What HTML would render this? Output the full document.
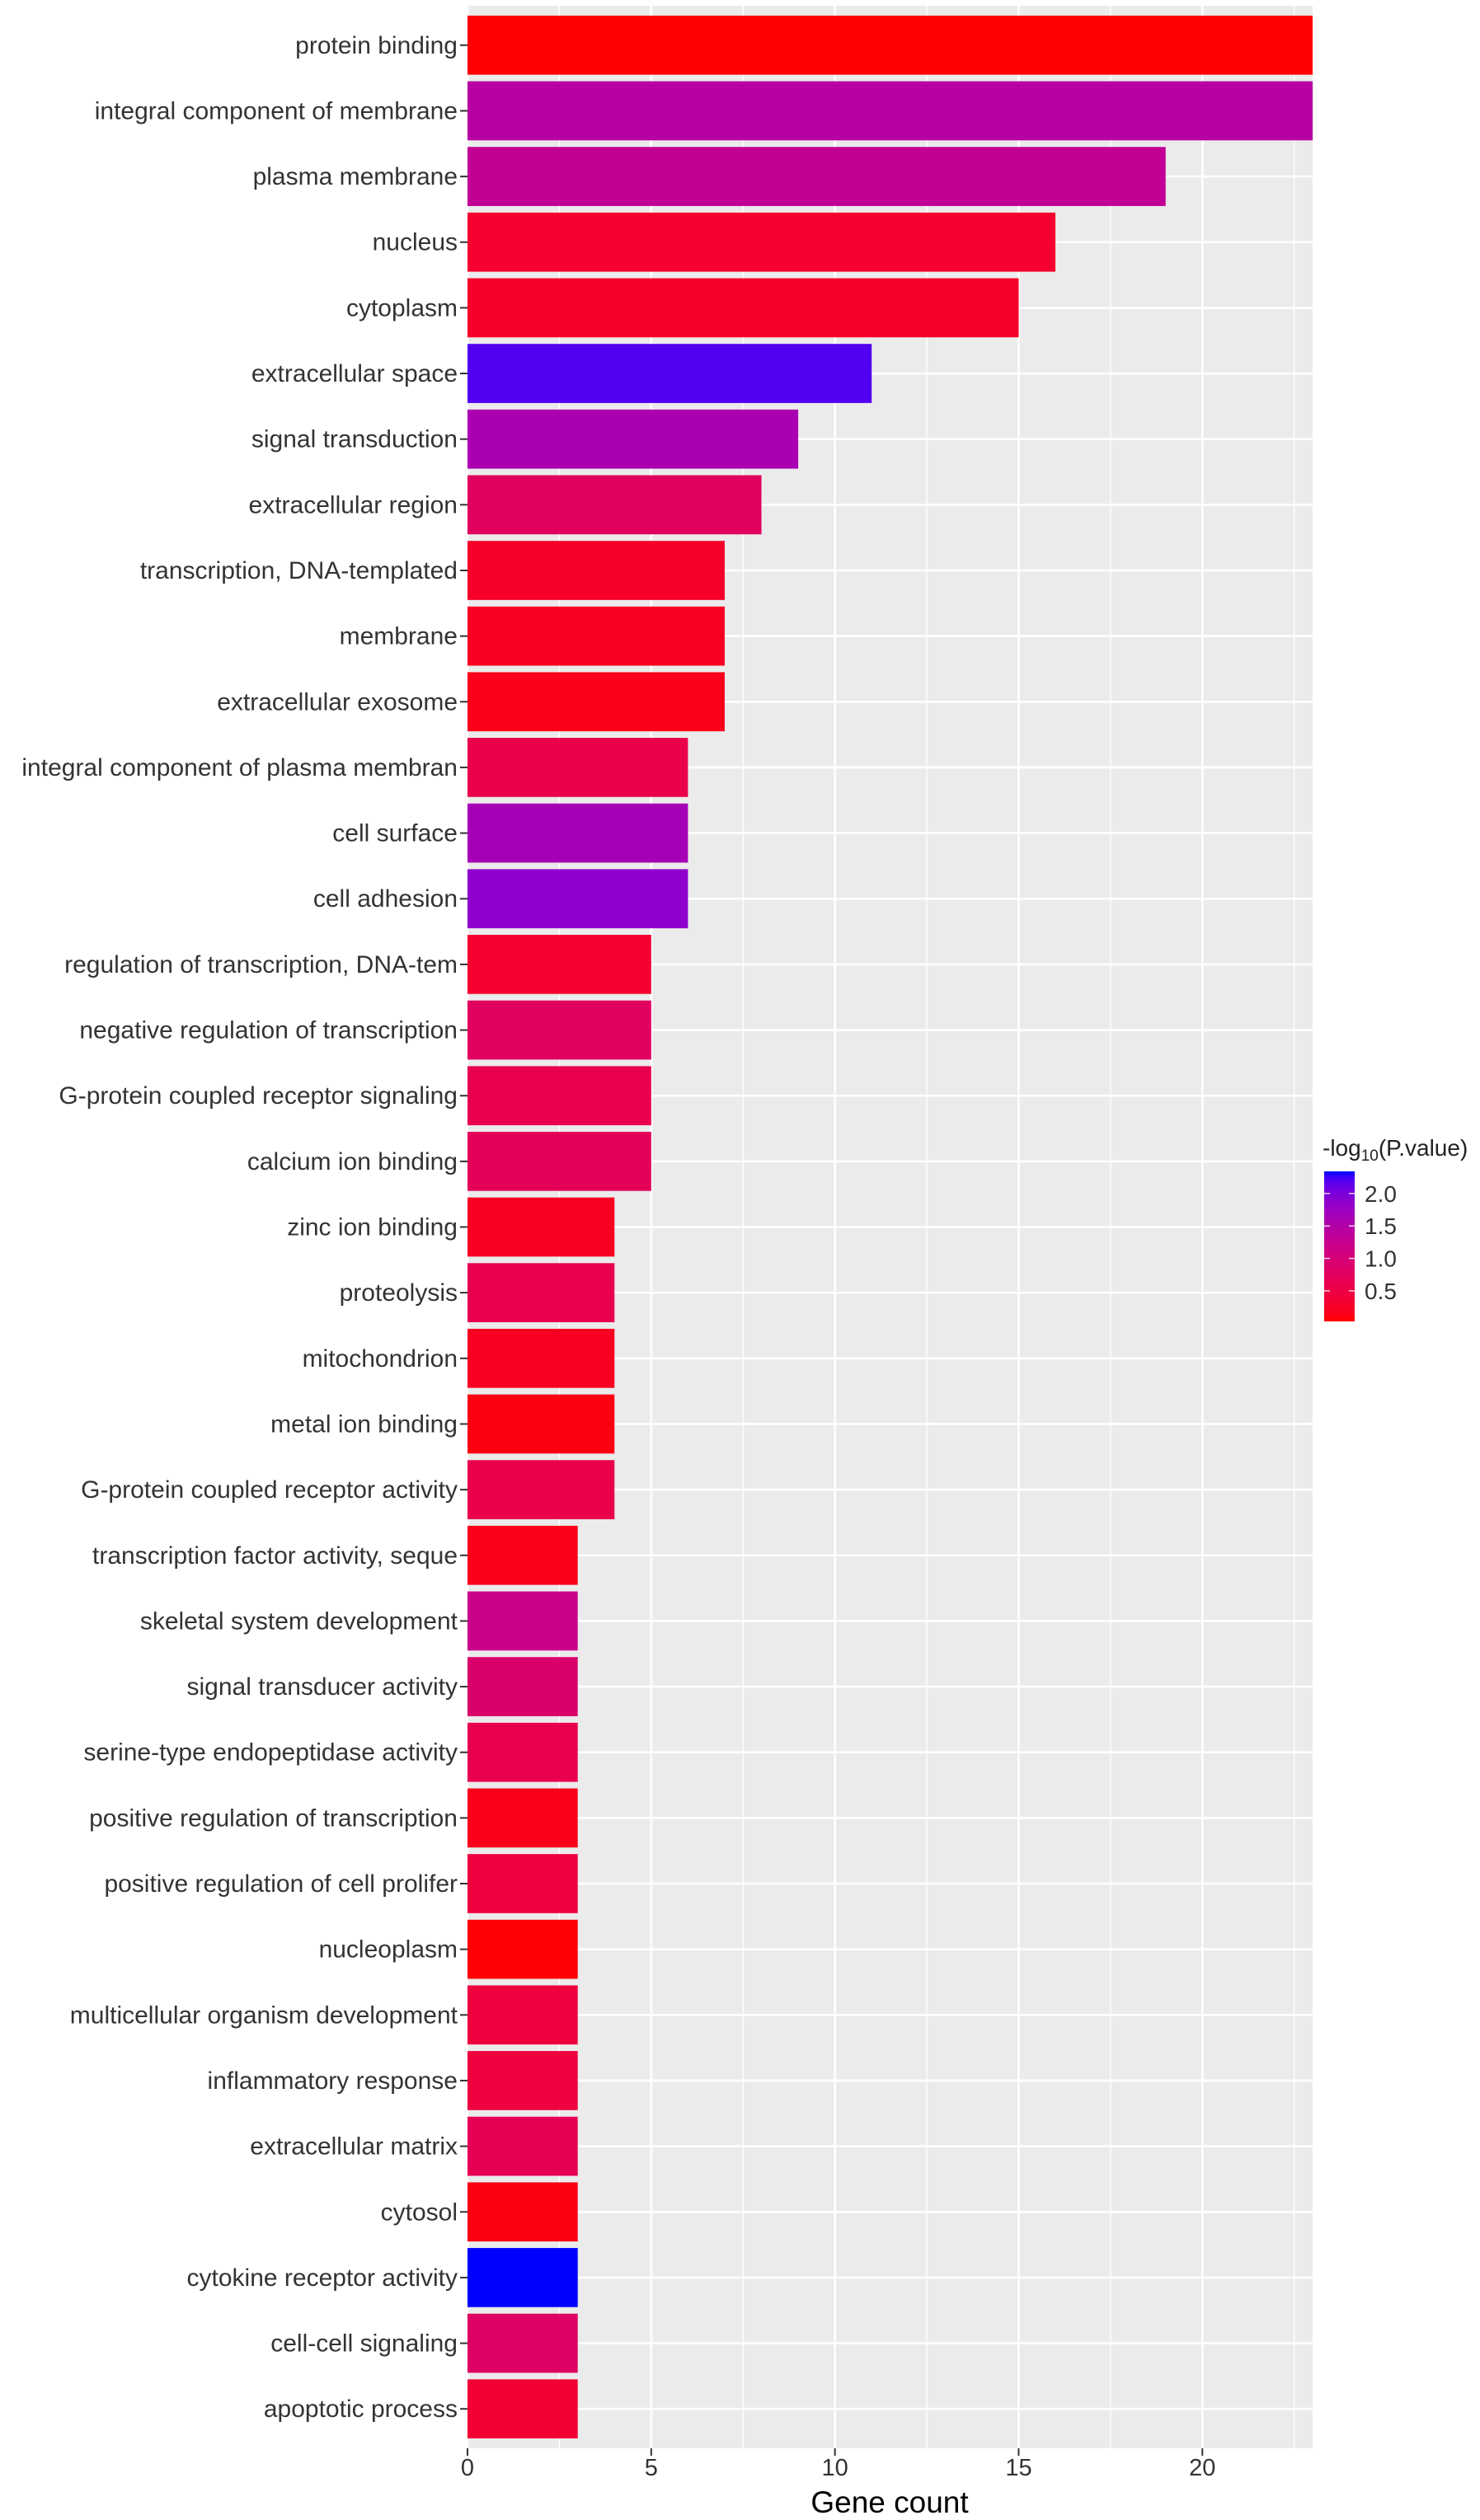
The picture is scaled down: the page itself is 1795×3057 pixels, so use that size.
<!DOCTYPE html>
<html><head><meta charset="utf-8"><style>
html,body{margin:0;padding:0;background:#fff;}
svg{display:block;font-family:"Liberation Sans",Arial,sans-serif;}
</style></head><body>
<svg id="chart" width="1795" height="3057" viewBox="0 0 1795 3057" xmlns="http://www.w3.org/2000/svg">
<rect x="567" y="7" width="1025" height="2963" fill="#EBEBEB"/>
<g id="grid"></g><g id="bars"></g><g id="yaxis"></g><g id="xaxis"></g>
<text x="1079" y="3048" font-size="37" text-anchor="middle" fill="#000">Gene count</text>
<g id="legend"></g>
</svg>
<script>
const categories = ["protein binding","integral component of membrane","plasma membrane","nucleus","cytoplasm","extracellular space","signal transduction","extracellular region","transcription, DNA-templated","membrane","extracellular exosome","integral component of plasma membran","cell surface","cell adhesion","regulation of transcription, DNA-tem","negative regulation of transcription","G-protein coupled receptor signaling","calcium ion binding","zinc ion binding","proteolysis","mitochondrion","metal ion binding","G-protein coupled receptor activity","transcription factor activity, seque","skeletal system development","signal transducer activity","serine-type endopeptidase activity","positive regulation of transcription","positive regulation of cell prolifer","nucleoplasm","multicellular organism development","inflammatory response","extracellular matrix","cytosol","cytokine receptor activity","cell-cell signaling","apoptotic process"];
const geneCounts = [23,23,19,16,15,11,9,8,7,7,7,6,6,6,5,5,5,5,4,4,4,4,4,3,3,3,3,3,3,3,3,3,3,3,3,3,3];
const logP = [0.03,1.45,1.3,0.3,0.25,2.2,1.6,0.75,0.25,0.2,0.15,0.55,1.65,1.85,0.3,0.75,0.6,0.7,0.2,0.6,0.2,0.1,0.55,0.15,1.2,0.9,0.6,0.15,0.45,0.05,0.45,0.45,0.65,0.1,2.34,0.8,0.35];
const xTicks = [0,5,10,15,20];
const xMinor = [2.5,7.5,12.5,17.5,22.5];
const legendTicks = [0.5,1.0,1.5,2.0];

const NS="http://www.w3.org/2000/svg";
const X0=567, X1=1592, XMAX=23, Y0=7, Y1=2970;
const n=categories.length;
const step=(Y1-Y0)/(n-1+1.2);
const xs=v=>X0+(v/XMAX)*(X1-X0);
const ys=i=>Y0+0.6*step+i*step;
const cMin=Math.min(...logP), cMax=Math.max(...logP);

function toLin(c){c/=255;return c<=0.04045?c/12.92:Math.pow((c+0.055)/1.055,2.4);}
function fromLin(c){c=c<=0.0031308?12.92*c:1.055*Math.pow(c,1/2.4)-0.055;return Math.max(0,Math.min(255,Math.round(c*255)));}
function rgb2lab(r,g,b){r=toLin(r);g=toLin(g);b=toLin(b);
 let X=(r*0.4124+g*0.3576+b*0.1805)/0.95047,Y=(r*0.2126+g*0.7152+b*0.0722),Z=(r*0.0193+g*0.1192+b*0.9505)/1.08883;
 const f=t=>t>0.008856?Math.cbrt(t):7.787*t+16/116;
 return [116*f(Y)-16,500*(f(X)-f(Y)),200*(f(Y)-f(Z))];}
function lab2rgb(L,a,bb){const fy=(L+16)/116,fx=fy+a/500,fz=fy-bb/200;
 const g=t=>t*t*t>0.008856?t*t*t:(t-16/116)/7.787;
 const X=g(fx)*0.95047,Y=g(fy),Z=g(fz)*1.08883;
 const r=X*3.2406+Y*-1.5372+Z*-0.4986,gg=X*-0.9689+Y*1.8758+Z*0.0415,b=X*0.0557+Y*-0.2040+Z*1.0570;
 return `rgb(${fromLin(r)},${fromLin(gg)},${fromLin(b)})`;}
const LR=rgb2lab(255,0,0), LB=rgb2lab(0,0,255);
function colorAt(v){const t=(v-cMin)/(cMax-cMin);return lab2rgb(LR[0]+(LB[0]-LR[0])*t,LR[1]+(LB[1]-LR[1])*t,LR[2]+(LB[2]-LR[2])*t);}
function mk(tag,attrs,parent){const e=document.createElementNS(NS,tag);for(const k in attrs)e.setAttribute(k,attrs[k]);parent.appendChild(e);return e;}

const grid=document.getElementById('grid');
xMinor.forEach(v=>{const l=mk('line',{x1:xs(v),x2:xs(v),y1:Y0,y2:Y1,stroke:'#fff','stroke-width':1.3},grid);

});
xTicks.forEach(v=>{const l=mk('line',{x1:xs(v),x2:xs(v),y1:Y0,y2:Y1,stroke:'#fff','stroke-width':2.6},grid);

});
categories.forEach((c,i)=>{const l=mk('line',{x1:X0,x2:X1,y1:ys(i),y2:ys(i),stroke:'#fff','stroke-width':2.6},grid);

});

const bars=document.getElementById('bars'), yax=document.getElementById('yaxis');
const bh=step*0.9;
categories.forEach((c,i)=>{
 const r=mk('rect',{x:X0,y:ys(i)-bh/2,width:xs(geneCounts[i])-X0,height:bh,fill:colorAt(logP[i])},bars);
 
 
 const t=mk('text',{x:555,y:ys(i)+10,'font-size':30,'text-anchor':'end',fill:'#333'},yax);
 t.textContent=c;
 
 
 const tk=mk('line',{x1:558,x2:567,y1:ys(i),y2:ys(i),stroke:'#333','stroke-width':2},yax);
 
 
});
const xax=document.getElementById('xaxis');
xTicks.forEach(v=>{
 const tk=mk('line',{x1:xs(v),x2:xs(v),y1:Y1,y2:Y1+9,stroke:'#333','stroke-width':2},xax);
 
 
 const t=mk('text',{x:xs(v),y:3003,'font-size':29,'text-anchor':'middle',fill:'#333'},xax);
 t.textContent=v;
 
 
});

const lg=document.getElementById('legend');
const LBX=1606,LBW=37,LTOP=1421,LBOT=1603;
const ly=v=>LBOT-(v-cMin)/(cMax-cMin)*(LBOT-LTOP);
const title=mk('text',{x:1604,y:1402,'font-size':28,fill:'#222'},lg);
title.innerHTML='-log<tspan font-size="19" dy="6">10</tspan><tspan dy="-6">(P.value)</tspan>';


const defs=mk('defs',{},lg);
const grad=mk('linearGradient',{id:'lgGrad',x1:0,y1:1,x2:0,y2:0},defs);
for(let k=0;k<=20;k++){mk('stop',{offset:k/20,'stop-color':colorAt(cMin+(cMax-cMin)*k/20)},grad);}
const cb=mk('rect',{x:LBX,y:LTOP,width:LBW,height:LBOT-LTOP,fill:'url(#lgGrad)'},lg);


legendTicks.forEach(v=>{
 mk('line',{x1:LBX,x2:LBX+7,y1:ly(v),y2:ly(v),stroke:'#fff','stroke-width':1.5,opacity:0.8},lg);
 mk('line',{x1:LBX+LBW-7,x2:LBX+LBW,y1:ly(v),y2:ly(v),stroke:'#fff','stroke-width':1.5,opacity:0.8},lg);
 const t=mk('text',{x:1655,y:ly(v)+10,'font-size':28,fill:'#333'},lg);
 t.textContent=v.toFixed(1);
 
 
});
</script>
</body></html>
